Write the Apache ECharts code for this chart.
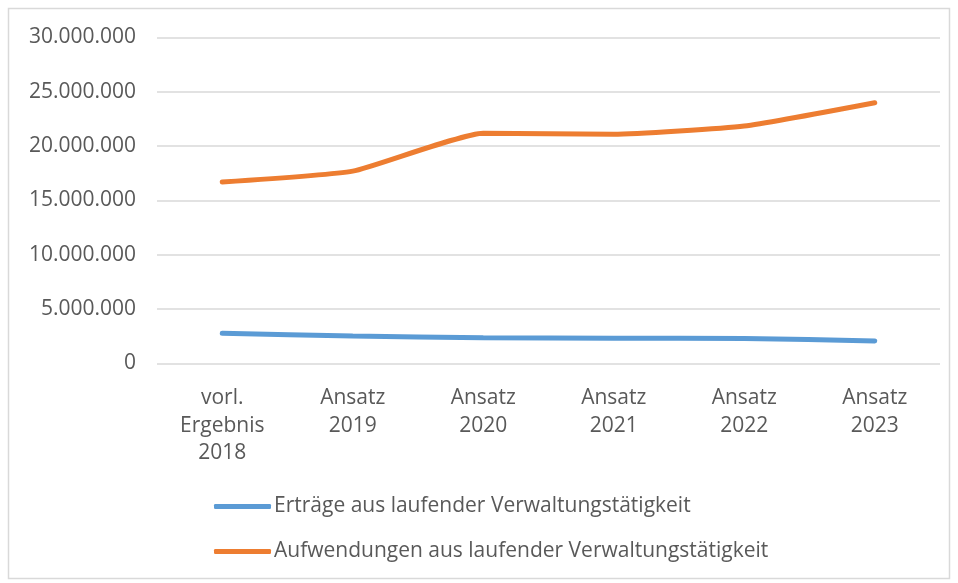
<!DOCTYPE html>
<html>
<head>
<meta charset="utf-8">
<script src="https://cdn.jsdelivr.net/npm/echarts@6/dist/echarts.min.js"></script>
<style>
  html, body { margin: 0; padding: 0; background: #fff; }
  #chart { width: 958px; height: 583px; }
</style>
</head>
<body>
<div id="chart"></div>
<script>
// Kategorien und Werte
const categories = ['vorl.\nErgebnis\n2018', 'Ansatz\n2019', 'Ansatz\n2020', 'Ansatz\n2021', 'Ansatz\n2022', 'Ansatz\n2023']
const ertraege = [2780000, 2520000, 2380000, 2320000, 2310000, 2070000]
const aufwendungen = [16700000, 17700000, 21200000, 21100000, 21850000, 24000000]
const seriesNames = ['Erträge aus laufender Verwaltungstätigkeit', 'Aufwendungen aus laufender Verwaltungstätigkeit']

const colors = {
  blue: '#5B9BD5',
  orange: '#ED7D31',
  grid: '#D9D9D9',
  text: '#595959'
}

const fontFamily = 'Open Sans'

const fmt = v => String(v).replace(/\B(?=(\d{3})+(?!\d))/g, '.')

const chart = echarts.init(document.getElementById('chart'))

chart.setOption({
  animation: false,
  graphic: [
    {
      type: 'rect',
      shape: { x: 8.5, y: 8.5, width: 941, height: 570 },
      style: { fill: 'none', stroke: colors.grid, lineWidth: 1.5 },
      silent: true
    }
  ],
  grid: { left: 157, right: 18, top: 37.5, bottom: 219.5 },
  legend: {
    orient: 'vertical',
    left: 209,
    top: 490,
    icon: 'roundRect',
    itemWidth: 57,
    itemHeight: 5,
    itemGap: 22,
    textStyle: { color: colors.text, fontSize: 21, fontFamily, lineHeight: 23, padding: [0, 0, 0, -2] },
    data: seriesNames
  },
  xAxis: {
    type: 'category',
    data: categories,
    boundaryGap: true,
    axisLine: { show: false },
    axisTick: { show: false },
    axisLabel: { color: colors.text, fontSize: 21, fontFamily, lineHeight: 27.5, margin: 21 }
  },
  yAxis: {
    type: 'value',
    min: 0,
    max: 30000000,
    interval: 5000000,
    axisLine: { show: false },
    axisTick: { show: false },
    axisLabel: { color: colors.text, fontSize: 21, fontFamily, margin: 21, formatter: fmt },
    splitLine: { lineStyle: { color: colors.grid, width: 1.5 } }
  },
  series: [
    {
      name: seriesNames[0],
      type: 'line',
      data: ertraege,
      smooth: 0.15,
      showSymbol: false,
      itemStyle: { color: colors.blue },
      lineStyle: { color: colors.blue, width: 5, cap: 'round' }
    },
    {
      name: seriesNames[1],
      type: 'line',
      data: aufwendungen,
      smooth: 0.15,
      showSymbol: false,
      itemStyle: { color: colors.orange },
      lineStyle: { color: colors.orange, width: 5, cap: 'round' }
    }
  ]
})
</script>
</body>
</html>
